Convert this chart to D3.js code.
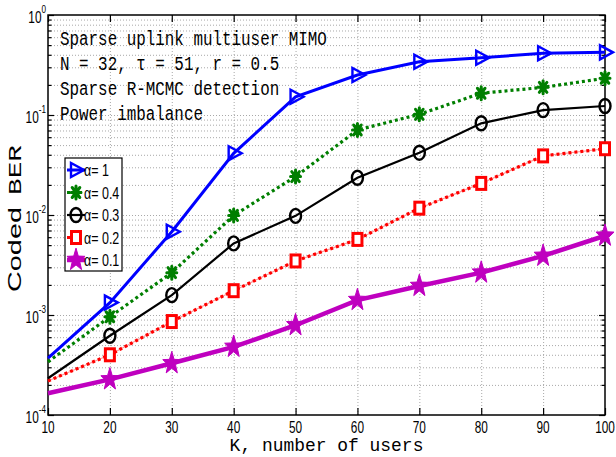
<!DOCTYPE html>
<html>
<head>
<meta charset="utf-8">
<script src="https://cdn.jsdelivr.net/npm/d3@7"></script>
<style>
  html, body { margin: 0; padding: 0; background: #fff; }
  svg { display: block; }
</style>
</head>
<body>
<div id="chart"></div>
<script>
// values
var users = [10, 20, 30, 40, 50, 60, 70, 80, 90, 100];
var berAlpha1  = [3.7e-4, 1.33e-3, 6.8e-3, 0.0414, 0.152, 0.251, 0.341, 0.374, 0.414, 0.423];
var berAlpha04 = [3.4e-4, 9.6e-4, 2.65e-3, 0.0099, 0.0242, 0.0708, 0.1016, 0.165, 0.189, 0.233];
var berAlpha03 = [2.33e-4, 6.2e-4, 1.58e-3, 5.2e-3, 9.8e-3, 0.0236, 0.042, 0.0826, 0.112, 0.123];
var berAlpha02 = [2.19e-4, 4.0e-4, 8.6e-4, 1.75e-3, 3.47e-3, 5.7e-3, 0.0117, 0.0207, 0.039, 0.046];
var berAlpha01 = [1.65e-4, 2.27e-4, 3.29e-4, 4.8e-4, 7.9e-4, 1.41e-3, 1.95e-3, 2.65e-3, 3.9e-3, 6.2e-3];

var seriesNames = ["\u03b1= 1", "\u03b1= 0.4", "\u03b1= 0.3", "\u03b1= 0.2", "\u03b1= 0.1"];
var xTicks = [10, 20, 30, 40, 50, 60, 70, 80, 90, 100];
var yMajor = [1e-4, 1e-3, 1e-2, 1e-1, 1];
var yExponents = ["-4", "-3", "-2", "-1", "0"];
var notes = [
    "Sparse uplink multiuser MIMO",
    "N = 32, \u03c4 = 51, r = 0.5",
    "Sparse R-MCMC detection",
    "Power imbalance"
];

var W = 616, H = 457;
// plot box (window.top is read-only, so no bare "top")
var pLeft = 48, pRight = 605, pTop = 15, pBottom = 415;

var svg = d3.select("#chart")
    .append("svg")
    .attr("width", W)
    .attr("height", H);

var x = d3.scaleLinear().domain([10, 100]).range([pLeft, pRight]);
var y = d3.scaleLog().domain([1e-4, 1]).range([pBottom, pTop]);

// minor log ticks 2..9 per decade
var yMinor = [];
yMajor.slice(0, -1).forEach(function(d) {
    for (var k = 2; k <= 9; k++) yMinor.push(d * k);
});

// the picture is stretched vertically, so glyphs get squeezed sideways
var squeeze = 0.74;

// grid
svg.append("g")
    .attr("class", "grid")
    .attr("transform", "translate(0," + pBottom + ")")
    .call(d3.axisBottom(x).tickValues(xTicks.slice(1, -1)).tickSize(-(pBottom - pTop)).tickFormat(""));
svg.append("g")
    .attr("class", "grid")
    .attr("transform", "translate(" + pLeft + ",0)")
    .call(d3.axisLeft(y).tickValues(yMinor.concat(yMajor.slice(1, -1))).tickSize(-(pRight - pLeft)).tickFormat(""));
svg.selectAll(".grid .domain").remove();
svg.selectAll(".grid line")
    .attr("stroke", "#a8a8a8")
    .attr("stroke-width", 1)
    .attr("stroke-dasharray", "1,2");

// inward ticks on all four sides
function ticks(axis, tx, ty) {
    var g = svg.append("g")
        .attr("class", "ticks")
        .attr("transform", "translate(" + tx + "," + ty + ")")
        .call(axis);
    g.select(".domain").remove();
    g.selectAll("text").remove();
    g.selectAll("line").attr("stroke", "#000").attr("stroke-width", 1.2);
    return g;
}
ticks(d3.axisBottom(x).tickValues(xTicks).tickSize(-7), 0, pBottom);
ticks(d3.axisTop(x).tickValues(xTicks).tickSize(-7), 0, pTop);
ticks(d3.axisLeft(y).tickValues(yMajor).tickSize(-6), pLeft, 0);
ticks(d3.axisLeft(y).tickValues(yMinor).tickSize(-3.5), pLeft, 0);
ticks(d3.axisRight(y).tickValues(yMajor).tickSize(-6), pRight, 0);
ticks(d3.axisRight(y).tickValues(yMinor).tickSize(-3.5), pRight, 0);

// frame
svg.append("rect")
    .attr("x", pLeft)
    .attr("y", pTop)
    .attr("width", pRight - pLeft)
    .attr("height", pBottom - pTop)
    .attr("fill", "none")
    .attr("stroke", "#000")
    .attr("stroke-width", 1.5);

// tick labels
svg.append("g").selectAll("text")
    .data(xTicks).enter()
    .append("text")
    .attr("transform", function(d) { return "translate(" + x(d) + "," + (pBottom + 18) + ") scale(" + squeeze + ",1)"; })
    .attr("text-anchor", "middle")
    .style("font-family", "'Liberation Sans', Arial, sans-serif")
    .style("font-size", "16px")
    .text(function(d) { return d; });

var yLabels = svg.append("g").selectAll("text")
    .data(yMajor).enter()
    .append("text")
    .attr("transform", function(d) { return "translate(46," + (y(d) + 8) + ") scale(" + squeeze + ",1)"; })
    .attr("text-anchor", "end")
    .style("font-family", "'Liberation Sans', Arial, sans-serif")
    .style("font-size", "16px");
yLabels.append("tspan").text("10");
yLabels.append("tspan")
    .attr("dy", -10)
    .style("font-size", "11px")
    .text(function(d, i) { return yExponents[i]; });

// axis titles
svg.append("text")
    .attr("transform", "translate(" + ((pLeft + pRight) / 2) + ",451) scale(0.97,1)")
    .attr("text-anchor", "middle")
    .style("font-family", "'Liberation Mono', 'Courier New', monospace")
    .style("font-size", "18.5px")
    .text("K, number of users");

var yTitle = svg.append("g")
    .attr("transform", "translate(21,292) rotate(-90)");
yTitle.append("text")
    .attr("x", 0)
    .attr("textLength", 85)
    .attr("lengthAdjust", "spacingAndGlyphs")
    .style("font-family", "'Liberation Sans', Arial, sans-serif")
    .style("font-size", "18px")
    .text("Coded");
yTitle.append("text")
    .attr("x", 97)
    .attr("textLength", 50)
    .attr("lengthAdjust", "spacingAndGlyphs")
    .style("font-family", "'Liberation Mono', 'Courier New', monospace")
    .style("font-size", "19px")
    .text("BER");

// annotation block
svg.append("g").selectAll("text")
    .data(notes).enter()
    .append("text")
    .attr("transform", function(d, i) { return "translate(60," + (45 + i * 25) + ") scale(0.795,1)"; })
    .style("font-family", "'Liberation Mono', 'Courier New', monospace")
    .style("font-size", "20px")
    .text(function(d) { return d; });

// marker shapes, a little taller than wide like the picture
var sv = 1.25;
function starPath(R, r) {
    var pts = [];
    for (var i = 0; i < 10; i++) {
        var a = -Math.PI / 2 + i * Math.PI / 5;
        var rad = i % 2 ? r : R;
        pts.push([rad * Math.cos(a), rad * Math.sin(a) * sv]);
    }
    return "M" + pts.map(function(p) { return p[0].toFixed(2) + "," + p[1].toFixed(2); }).join("L") + "Z";
}

function drawMarker(g, type, color) {
    if (type === "triangle") {
        g.append("path")
            .attr("d", "M-5,-7L-5,7L8,0Z")
            .attr("fill", "none")
            .attr("stroke", color)
            .attr("stroke-width", 2.4);
    } else if (type === "asterisk") {
        g.append("path")
            .attr("d", "M-5,0L5,0M0,-6.5L0,6.5M-3.8,-5L3.8,5M-3.8,5L3.8,-5")
            .attr("stroke", color)
            .attr("stroke-width", 3)
            .attr("stroke-linecap", "round");
        g.append("ellipse")
            .attr("rx", 3.5).attr("ry", 4.5)
            .attr("fill", color);
    } else if (type === "circle") {
        g.append("ellipse")
            .attr("rx", 5.5).attr("ry", 7)
            .attr("fill", "none")
            .attr("stroke", color)
            .attr("stroke-width", 2.4);
    } else if (type === "square") {
        g.append("rect")
            .attr("x", -4.5).attr("y", -6)
            .attr("width", 9).attr("height", 12)
            .attr("fill", "#fff")
            .attr("stroke", color)
            .attr("stroke-width", 3);
    } else if (type === "star") {
        g.append("path")
            .attr("d", starPath(9.5, 3.9))
            .attr("fill", color)
            .attr("stroke", color)
            .attr("stroke-width", 1);
    }
}

var series = [
    { name: seriesNames[0], values: berAlpha1,  color: "#0000ff", width: 3,   dash: null,  marker: "triangle" },
    { name: seriesNames[1], values: berAlpha04, color: "#007f00", width: 3.2, dash: "3,3", marker: "asterisk" },
    { name: seriesNames[2], values: berAlpha03, color: "#000000", width: 2.2, dash: null,  marker: "circle" },
    { name: seriesNames[3], values: berAlpha02, color: "#ff0000", width: 3.2, dash: "3,3", marker: "square" },
    { name: seriesNames[4], values: berAlpha01, color: "#bf00bf", width: 4.5, dash: null,  marker: "star" }
];

var line = d3.line()
    .x(function(d) { return x(d[0]); })
    .y(function(d) { return y(d[1]); });

// draw the lowest series first so the blue stays on top like in the figure
series.slice().reverse().forEach(function(s) {
    var pts = users.map(function(u, i) { return [u, s.values[i]]; });
    var g = svg.append("g").attr("class", "series");

    if (s.marker === "square") {
        // the dash-dot red reads as a pale line with red dots on it
        g.append("path")
            .attr("d", line(pts))
            .attr("fill", "none")
            .attr("stroke", "#ff9a9a")
            .attr("stroke-width", 1.2);
    }
    g.append("path")
        .attr("d", line(pts))
        .attr("fill", "none")
        .attr("stroke", s.color)
        .attr("stroke-width", s.width)
        .attr("stroke-dasharray", s.dash);

    // no markers at K = 10 in the reference
    pts.filter(function(p) { return p[0] >= 20; }).forEach(function(p) {
        var m = g.append("g").attr("transform", "translate(" + x(p[0]) + "," + y(p[1]) + ")");
        drawMarker(m, s.marker, s.color);
    });
});

// legend
var legend = svg.append("g").attr("class", "legend");
legend.append("rect")
    .attr("x", 65).attr("y", 158)
    .attr("width", 57).attr("height", 113)
    .attr("fill", "#fff")
    .attr("stroke", "#000")
    .attr("stroke-width", 1.2);

series.forEach(function(s, i) {
    var cy = 170 + i * 22.5;
    var row = legend.append("g");
    row.append("line")
        .attr("x1", 67).attr("x2", 85)
        .attr("y1", cy).attr("y2", cy)
        .attr("stroke", s.color)
        .attr("stroke-width", s.width)
        .attr("stroke-dasharray", s.dash);
    drawMarker(row.append("g").attr("transform", "translate(76," + cy + ")"), s.marker, s.color);
    row.append("text")
        .attr("transform", "translate(84," + (cy + 6) + ") scale(0.78,1)")
        .style("font-family", "'Liberation Sans', Arial, sans-serif")
        .style("font-size", "16px")
        .text(s.name);
});
</script>
</body>
</html>
